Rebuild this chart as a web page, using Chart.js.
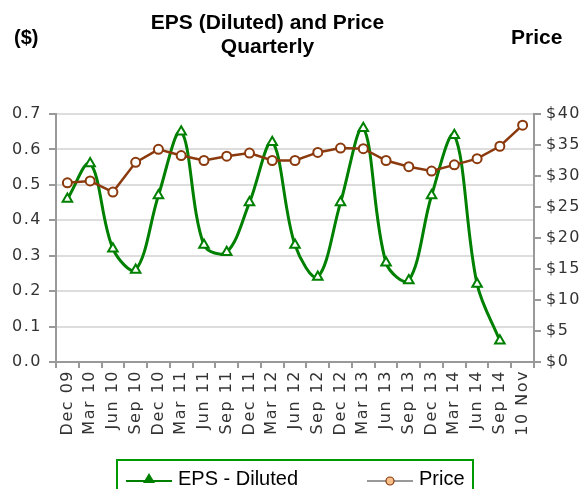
<!DOCTYPE html>
<html>
<head>
<meta charset="utf-8">
<script src="https://cdn.jsdelivr.net/npm/chart.js@4"></script>
<style>
  html, body { margin: 0; padding: 0; background: #fff; }
  #wrap { position: relative; width: 582px; height: 489px; overflow: hidden; font-family: "Liberation Sans", Arial, sans-serif; }
  #c { position: absolute; left: 0; top: 0; }
  .t { position: absolute; font-weight: bold; font-size: 21px; color: #000; white-space: nowrap; }
  #title { left: 0; width: 535px; top: 10px; text-align: center; line-height: 24px; }
  #yl { left: 14px; top: 26px; font-size: 20px; }
  #yr { left: 511px; top: 25px; }
  #legend { position: absolute; left: 116px; top: 459px; width: 358px; height: 40px; border: 2px solid #009900; box-sizing: border-box; }
  .li { position: absolute; top: 6px; font-size: 20px; color: #000; white-space: nowrap; display: flex; align-items: center; }
  .li svg { margin-right: 6px; }
</style>
</head>
<body>
<div id="wrap">
  <canvas id="c" width="582" height="489"></canvas>
  <div class="t" id="title">EPS (Diluted) and Price<br>Quarterly</div>
  <div class="t" id="yl">($)</div>
  <div class="t" id="yr">Price</div>
  <div id="legend">
    <div class="li" style="left:8px;"><svg width="46" height="20"><line x1="0" y1="12" x2="46" y2="12" stroke="#008000" stroke-width="2"/><polygon points="23,4 29,14 17,14" fill="#008000"/></svg>EPS - Diluted</div>
    <div class="li" style="left:249px;"><svg width="46" height="20"><line x1="0" y1="12" x2="46" y2="12" stroke="#999" stroke-width="2"/><circle cx="23" cy="12" r="4" fill="#f7c08a" stroke="#8b3a0e" stroke-width="1.2"/></svg>Price</div>
  </div>
</div>
<script>
const categories = ['Dec 09','Mar 10','Jun 10','Sep 10','Dec 10','Mar 11','Jun 11','Sep 11','Dec 11','Mar 12','Jun 12','Sep 12','Dec 12','Mar 13','Jun 13','Sep 13','Dec 13','Mar 14','Jun 14','Sep 14','10 Nov'];
const epsDiluted = [0.46,0.56,0.32,0.26,0.47,0.65,0.33,0.31,0.45,0.62,0.33,0.24,0.45,0.66,0.28,0.23,0.47,0.64,0.22,0.06,null];
const price = [28.9,29.2,27.4,32.2,34.3,33.3,32.5,33.2,33.7,32.5,32.5,33.8,34.5,34.4,32.5,31.5,30.8,31.8,32.8,34.8,38.2];
const epsTicks = [0,0.1,0.2,0.3,0.4,0.5,0.6,0.7];
const priceTicks = [0,5,10,15,20,25,30,35,40];

const tickFont = { family: 'DejaVu Sans', size: 16 };
const axisGrey = '#999999';
const LS = '1.5px';

const spacing = {
  id: 'spacing',
  beforeUpdate(chart) { chart.ctx.letterSpacing = LS; },
  beforeLayout(chart) { chart.ctx.letterSpacing = LS; },
  beforeDraw(chart) { chart.ctx.letterSpacing = LS; }
};

new Chart(document.getElementById('c'), {
  type: 'line',
  plugins: [spacing],
  data: {
    labels: categories,
    datasets: [
      {
        label: 'EPS - Diluted',
        data: epsDiluted,
        yAxisID: 'y',
        borderColor: '#008000',
        borderWidth: 3,
        tension: 0.35,
        pointStyle: 'triangle',
        pointRadius: 5.5,
        pointBorderWidth: 2,
        pointBorderColor: '#008000',
        pointBackgroundColor: '#ffffff',
        fill: false,
        order: 2
      },
      {
        label: 'Price',
        data: price,
        yAxisID: 'y1',
        borderColor: '#8b3a0e',
        borderWidth: 2.5,
        tension: 0,
        pointStyle: 'circle',
        pointRadius: 4.5,
        pointBorderWidth: 2,
        pointBorderColor: '#8b3a0e',
        pointBackgroundColor: '#ffffff',
        fill: false,
        order: 1
      }
    ]
  },
  options: {
    responsive: false,
    animation: false,
    devicePixelRatio: 1,
    layout: { padding: { top: 114, left: 0, right: 0, bottom: 0 } },
    plugins: { legend: { display: false }, title: { display: false }, tooltip: { enabled: false } },
    scales: {
      x: {
        offset: true,
        grid: { offset: true, drawOnChartArea: false, drawTicks: true, tickLength: 6, color: axisGrey, lineWidth: 2 },
        border: { color: axisGrey, width: 2 },
        ticks: { font: tickFont, color: '#333', minRotation: 90, maxRotation: 90, autoSkip: false, padding: 2 },
        afterFit: s => { s.height = 127; }
      },
      y: {
        position: 'left',
        min: 0, max: 0.7,
        afterBuildTicks: s => { s.ticks = epsTicks.map(v => ({ value: v })); },
        grid: { color: '#dddddd', lineWidth: 2, tickColor: axisGrey, tickLength: 7 },
        border: { color: axisGrey, width: 2 },
        ticks: { font: tickFont, color: '#333', padding: 7, callback: v => Number(v).toFixed(1) },
        afterFit: s => { s.width = 56; }
      },
      y1: {
        position: 'right',
        min: 0, max: 40,
        afterBuildTicks: s => { s.ticks = priceTicks.map(v => ({ value: v })); },
        grid: { drawOnChartArea: false, tickColor: axisGrey, tickLength: 7, lineWidth: 2 },
        border: { color: axisGrey, width: 2 },
        ticks: { font: tickFont, color: '#333', padding: 5, callback: v => '$' + v },
        afterFit: s => { s.width = 48; }
      }
    }
  }
});
</script>
</body>
</html>
